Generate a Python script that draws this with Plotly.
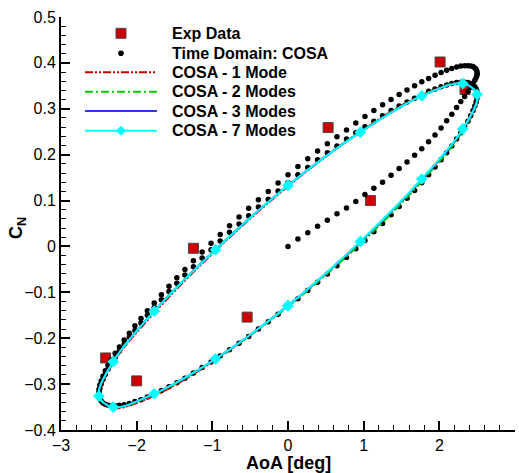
import plotly.graph_objects as go

# ---------------- data ----------------
EXP_AOA = [2.01, 2.34, 0.53, 1.09, -1.25, -0.54, -2.41, -2.00]
EXP_CN = [0.402, 0.342, 0.259, 0.100, -0.004, -0.154, -0.243, -0.293]

TD_AOA = [
    0.0, 0.131, 0.261, 0.391, 0.520, 0.647, 0.773, 0.896, 1.017, 1.135, 1.250, 1.362, 1.469, 1.573, 1.673, 1.768,
    1.858, 1.943, 2.023, 2.097, 2.165, 2.228, 2.284, 2.334, 2.378, 2.415, 2.445, 2.469, 2.486, 2.497, 2.500,
    2.497, 2.486, 2.469, 2.445, 2.415, 2.378, 2.334, 2.284, 2.228, 2.165, 2.097, 2.023, 1.943, 1.858, 1.768,
    1.673, 1.573, 1.469, 1.362, 1.250, 1.135, 1.017, 0.896, 0.773, 0.647, 0.520, 0.391, 0.261, 0.131, 0.0,
    -0.131, -0.261, -0.391, -0.520, -0.647, -0.773, -0.896, -1.017, -1.135, -1.250, -1.362, -1.469, -1.573, -1.673, -1.768,
    -1.858, -1.943, -2.023, -2.097, -2.165, -2.228, -2.284, -2.334, -2.378, -2.415, -2.445, -2.469, -2.486, -2.497, -2.500,
    -2.497, -2.486, -2.469, -2.445, -2.415, -2.378, -2.334, -2.284, -2.228, -2.165, -2.097, -2.023, -1.943, -1.858, -1.768,
    -1.673, -1.573, -1.469, -1.362, -1.250, -1.135, -1.017, -0.896, -0.773, -0.647, -0.520, -0.391, -0.261, -0.131, 0.0,
    0.131, 0.261, 0.391, 0.520, 0.647, 0.773, 0.896, 1.017, 1.135, 1.250, 1.362, 1.469, 1.573, 1.673, 1.768,
    1.858, 1.943, 2.023, 2.097, 2.165, 2.228, 2.284, 2.334, 2.378, 2.415, 2.445, 2.469, 2.486, 2.497, 2.500,
    2.497, 2.486, 2.469, 2.445, 2.415, 2.378, 2.334, 2.284, 2.228, 2.165, 2.097, 2.023, 1.943, 1.858, 1.768,
    1.673, 1.573, 1.469, 1.362, 1.250, 1.135, 1.017, 0.896, 0.773, 0.647, 0.520, 0.391, 0.261, 0.131, 0.0,
    -0.131, -0.261, -0.391, -0.520, -0.647, -0.773, -0.896, -1.017, -1.135, -1.250, -1.362, -1.469, -1.573, -1.673, -1.768,
    -1.858, -1.943, -2.023, -2.097, -2.165, -2.228, -2.284, -2.334, -2.378, -2.415, -2.445, -2.469, -2.486, -2.497, -2.500,
]
TD_CN = [
    0.000, 0.016, 0.030, 0.044, 0.057, 0.071, 0.084, 0.098, 0.113, 0.127, 0.140, 0.155, 0.170, 0.184, 0.199, 0.213,
    0.228, 0.243, 0.258, 0.274, 0.288, 0.303, 0.316, 0.327, 0.338, 0.347, 0.355, 0.362, 0.368, 0.373, 0.377,
    0.381, 0.386, 0.389, 0.392, 0.393, 0.394, 0.394, 0.393, 0.391, 0.388, 0.384, 0.379, 0.373, 0.366, 0.359,
    0.350, 0.341, 0.331, 0.320, 0.309, 0.296, 0.283, 0.269, 0.254, 0.239, 0.224, 0.208, 0.191, 0.174, 0.156,
    0.138, 0.120, 0.102, 0.083, 0.064, 0.045, 0.026, 0.007, -0.012, -0.031, -0.050, -0.068, -0.087, -0.105, -0.123,
    -0.140, -0.157, -0.173, -0.189, -0.204, -0.219, -0.233, -0.247, -0.259, -0.271, -0.283, -0.293, -0.302, -0.311, -0.319,
    -0.326, -0.332, -0.337, -0.341, -0.344, -0.346, -0.347, -0.347, -0.346, -0.345, -0.342, -0.338, -0.334, -0.328, -0.321,
    -0.314, -0.306, -0.297, -0.287, -0.276, -0.264, -0.252, -0.239, -0.225, -0.211, -0.196, -0.180, -0.164, -0.148, -0.131,
    -0.114, -0.096, -0.078, -0.060, -0.042, -0.024, -0.005, 0.013, 0.032, 0.050, 0.069, 0.087, 0.105, 0.122, 0.139,
    0.156, 0.173, 0.189, 0.204, 0.219, 0.234, 0.248, 0.261, 0.273, 0.285, 0.296, 0.306, 0.315, 0.323, 0.331,
    0.338, 0.343, 0.348, 0.352, 0.355, 0.357, 0.358, 0.358, 0.357, 0.355, 0.352, 0.348, 0.343, 0.338, 0.331,
    0.323, 0.315, 0.306, 0.296, 0.285, 0.273, 0.261, 0.248, 0.234, 0.219, 0.204, 0.189, 0.172, 0.156, 0.139,
    0.121, 0.103, 0.086, 0.067, 0.049, 0.031, 0.012, -0.007, -0.025, -0.044, -0.062, -0.080, -0.098, -0.116, -0.133,
    -0.150, -0.167, -0.183, -0.198, -0.213, -0.228, -0.242, -0.255, -0.267, -0.279, -0.290, -0.300, -0.309, -0.318, -0.325,
]

COSA_AOA = [0.0, 0.957, 1.768, 2.310, 2.500, 2.310, 1.768, 0.957, 0.0,
            -0.957, -1.768, -2.310, -2.500, -2.310, -1.768, -0.957, 0.0]
COSA1_CN = [-0.129, 0.009, 0.146, 0.254, 0.329, 0.355, 0.330, 0.250, 0.131,
            -0.009, -0.145, -0.253, -0.327, -0.352, -0.325, -0.247, -0.129]
COSA2_CN = [-0.131, 0.006, 0.142, 0.252, 0.330, 0.356, 0.329, 0.250, 0.133,
            -0.006, -0.141, -0.250, -0.327, -0.351, -0.322, -0.246, -0.131]
COSA3_CN = [-0.129, 0.010, 0.146, 0.255, 0.331, 0.355, 0.328, 0.249, 0.133,
            -0.007, -0.141, -0.251, -0.326, -0.350, -0.321, -0.245, -0.129]
COSA7_CN = [-0.129, 0.011, 0.147, 0.256, 0.331, 0.355, 0.328, 0.249, 0.133,
            -0.007, -0.141, -0.251, -0.326, -0.350, -0.321, -0.245, -0.129]

LEGEND_LABELS = ["Exp Data", "Time Domain: COSA", "COSA - 1 Mode",
                 "COSA - 2 Modes", "COSA - 3 Modes", "COSA - 7 Modes"]

# ---------------- styling ----------------
W, H = 519, 473
ML, MR, MT, MB = 61, 4, 17, 43
FONT = "Liberation Sans, Arial, Helvetica, sans-serif"
RED, GREEN, BLUE, CYAN = "#cc0000", "#00cc00", "#3333ff", "#00ffff"
DASH_DDOT = "8px,2px,2px,2px,2px,2px"
DASH_DOT = "8px,3px,2px,3px"


def px_x(px):
    return (px - ML) / (W - ML - MR)


def px_y(py):
    return (H - MB - py) / (H - MT - MB)


fig = go.Figure()

fig.add_trace(go.Scatter(x=EXP_AOA, y=EXP_CN, mode="markers", showlegend=False,
                         marker=dict(symbol="square", size=10, color=RED,
                                     line=dict(color="#4a4a4a", width=1))))
fig.add_trace(go.Scatter(x=TD_AOA, y=TD_CN, mode="markers", showlegend=False,
                         marker=dict(symbol="circle", size=5.5, color="black", line=dict(width=0))))
fig.add_trace(go.Scatter(x=COSA_AOA, y=COSA1_CN, mode="lines", showlegend=False,
                         line=dict(color=RED, width=2, dash=DASH_DDOT, shape="spline")))
fig.add_trace(go.Scatter(x=COSA_AOA, y=COSA2_CN, mode="lines", showlegend=False,
                         line=dict(color=GREEN, width=2, dash=DASH_DOT, shape="spline")))
fig.add_trace(go.Scatter(x=COSA_AOA, y=COSA3_CN, mode="lines", showlegend=False,
                         line=dict(color=BLUE, width=2, shape="spline")))
fig.add_trace(go.Scatter(x=COSA_AOA, y=COSA7_CN, mode="lines+markers", showlegend=False,
                         line=dict(color=CYAN, width=2, shape="spline"),
                         marker=dict(symbol="diamond", size=9, color=CYAN)))

# ---------------- manual legend ----------------
rows = [33.3, 53.3, 72.3, 91.7, 111.0, 130.7]
sym_x = 121
shapes = []
shapes.append(dict(type="rect", xref="paper", yref="paper", xsizemode="pixel", ysizemode="pixel",
                   xanchor=px_x(sym_x), yanchor=px_y(rows[0]), x0=-5, x1=5, y0=-5, y1=5,
                   fillcolor=RED, line=dict(color="#4a4a4a", width=1)))
shapes.append(dict(type="circle", xref="paper", yref="paper", xsizemode="pixel", ysizemode="pixel",
                   xanchor=px_x(sym_x), yanchor=px_y(rows[1]), x0=-2.8, x1=2.8, y0=-2.8, y1=2.8,
                   fillcolor="black", line=dict(color="black", width=0)))
line_styles = [(RED, DASH_DDOT), (GREEN, DASH_DOT), (BLUE, "solid"), (CYAN, "solid")]
for (col, dash), ry in zip(line_styles, rows[2:]):
    shapes.append(dict(type="line", xref="paper", yref="paper",
                       x0=px_x(85), x1=px_x(157), y0=px_y(ry), y1=px_y(ry),
                       line=dict(color=col, width=2, dash=dash)))
shapes.append(dict(type="path", xref="paper", yref="paper", xsizemode="pixel", ysizemode="pixel",
                   xanchor=px_x(sym_x), yanchor=px_y(rows[5]),
                   path="M -4.5 0 L 0 4.5 L 4.5 0 L 0 -4.5 Z", fillcolor=CYAN, line=dict(color=CYAN, width=1)))

annotations = []
for lab, ry in zip(LEGEND_LABELS, rows):
    annotations.append(dict(text=lab, xref="paper", yref="paper", x=px_x(170), y=px_y(ry),
                            xanchor="left", yanchor="middle", showarrow=False,
                            font=dict(family=FONT, size=16, color="black", weight="bold")))
annotations.append(dict(text="AoA [deg]", xref="paper", yref="paper", x=px_x(288), y=px_y(463),
                        xanchor="center", yanchor="middle", showarrow=False,
                        font=dict(family=FONT, size=18, color="black", weight="bold")))
annotations.append(dict(text="C<sub>N</sub>", xref="paper", yref="paper", x=px_x(17), y=px_y(228),
                        xanchor="center", yanchor="middle", showarrow=False, textangle=-90,
                        font=dict(family=FONT, size=18, color="black", weight="bold")))

axis_common = dict(showline=True, linewidth=2, linecolor="black", mirror=False,
                   showgrid=False, zeroline=False, ticks="inside", ticklen=9, tickwidth=2,
                   tickcolor="black", tickfont=dict(family=FONT, size=16, color="black"))

fig.update_layout(
    width=W, height=H, margin=dict(l=ML, r=MR, t=MT, b=MB, pad=0),
    paper_bgcolor="white", plot_bgcolor="white", showlegend=False,
    shapes=shapes, annotations=annotations,
    xaxis=dict(range=[-3, 3], dtick=1, tick0=0,
               minor=dict(ticks="inside", ticklen=5, tickwidth=1, tickcolor="black", dtick=0.2, showgrid=False),
               **axis_common),
    yaxis=dict(range=[-0.4, 0.5], dtick=0.1, tick0=0, tickformat="~g",
               minor=dict(ticks="inside", ticklen=5, tickwidth=1, tickcolor="black", dtick=0.02, showgrid=False),
               **axis_common),
)

fig.write_html("out.html")
